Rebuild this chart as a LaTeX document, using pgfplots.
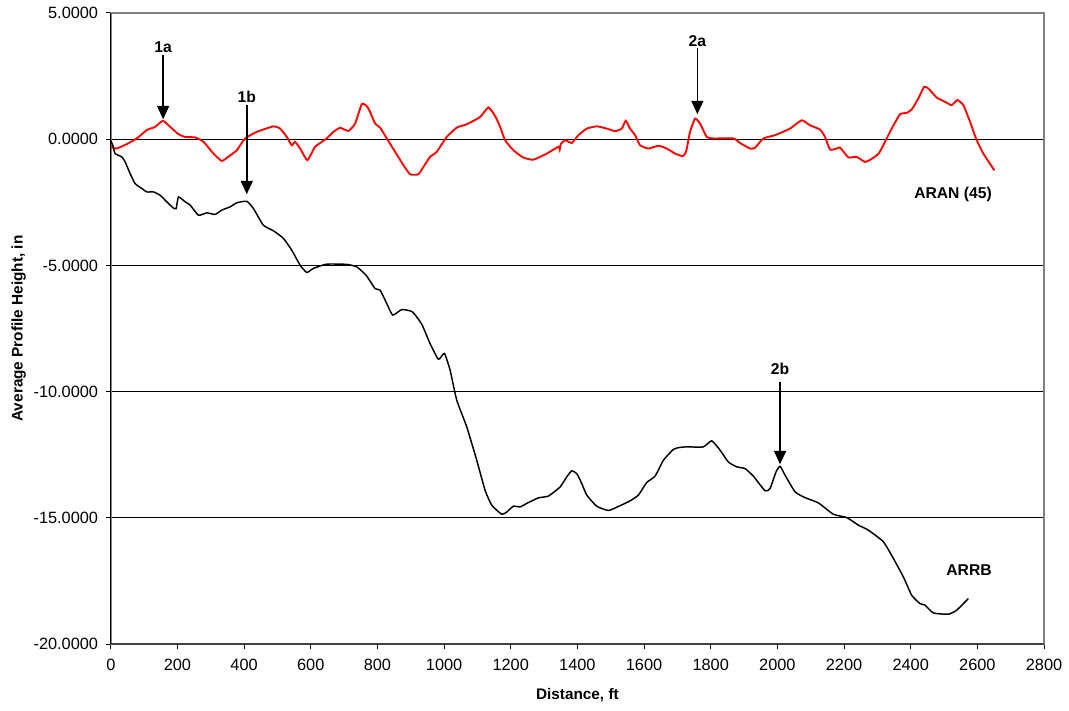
\documentclass[border=0pt]{standalone}
\usepackage{fontspec}
\setmainfont{Liberation Sans}
\usepackage{pgfplots}
\pgfplotsset{compat=1.18}
\usetikzlibrary{arrows.meta}

% ARAN (45) averaged profile
\pgfplotstableread{
x y
0 -0.30
17 -0.37
47 -0.20
78 0.03
108 0.36
133 0.49
156 0.73
178 0.49
203 0.20
223 0.09
253 0.07
278 -0.10
308 -0.57
333 -0.86
352 -0.70
378 -0.44
403 0.03
438 0.29
488 0.51
508 0.42
528 0.09
543 -0.24
553 -0.10
568 -0.37
590 -0.83
613 -0.30
648 0.03
668 0.29
688 0.45
713 0.33
733 0.62
753 1.39
768 1.31
778 1.08
793 0.62
808 0.46
828 0.03
853 -0.50
878 -1.03
898 -1.39
923 -1.39
938 -1.10
958 -0.70
978 -0.50
1008 0.09
1038 0.46
1068 0.59
1108 0.88
1133 1.26
1153 0.92
1168 0.49
1183 -0.04
1208 -0.44
1238 -0.73
1268 -0.81
1308 -0.57
1343 -0.30
1347 -0.40
1350 -0.20
1363 -0.04
1383 -0.15
1403 0.16
1428 0.42
1458 0.51
1488 0.42
1513 0.32
1533 0.42
1545 0.73
1558 0.42
1573 0.16
1588 -0.24
1613 -0.37
1643 -0.26
1668 -0.37
1693 -0.57
1716 -0.67
1726 -0.50
1738 0.29
1753 0.82
1768 0.62
1788 0.09
1808 0.03
1868 0.03
1888 -0.15
1918 -0.37
1933 -0.34
1958 0.03
1993 0.16
2038 0.42
2073 0.75
2098 0.55
2128 0.38
2143 0.09
2158 -0.41
2178 -0.37
2188 -0.33
2213 -0.72
2238 -0.70
2263 -0.90
2283 -0.78
2305 -0.55
2328 0.03
2343 0.42
2368 0.99
2388 1.04
2403 1.18
2423 1.61
2440 2.07
2453 2.01
2478 1.65
2503 1.48
2523 1.35
2540 1.55
2558 1.35
2578 0.69
2598 -0.04
2618 -0.57
2651 -1.23
}\aran

% ARRB averaged profile
\pgfplotstableread{
x y
0 -0.07
6 -0.24
13 -0.57
33 -0.70
43 -0.90
58 -1.36
73 -1.76
93 -1.95
108 -2.09
128 -2.09
148 -2.22
168 -2.48
186 -2.71
196 -2.75
203 -2.29
223 -2.48
238 -2.61
263 -3.01
288 -2.92
313 -2.98
333 -2.81
358 -2.68
378 -2.52
408 -2.46
428 -2.75
458 -3.41
488 -3.63
518 -3.93
543 -4.40
568 -4.99
588 -5.28
608 -5.12
648 -4.95
708 -4.96
738 -5.06
766 -5.39
793 -5.92
808 -5.98
828 -6.51
846 -6.97
873 -6.75
905 -6.84
933 -7.33
958 -8.10
983 -8.72
1001 -8.49
1018 -9.15
1038 -10.34
1068 -11.40
1098 -12.72
1123 -13.91
1143 -14.50
1173 -14.86
1188 -14.77
1208 -14.54
1228 -14.57
1248 -14.43
1283 -14.21
1313 -14.14
1348 -13.78
1368 -13.38
1383 -13.14
1398 -13.25
1413 -13.64
1428 -14.10
1458 -14.54
1493 -14.71
1523 -14.55
1558 -14.33
1583 -14.10
1608 -13.60
1633 -13.35
1658 -12.72
1688 -12.29
1708 -12.21
1728 -12.19
1778 -12.19
1803 -11.95
1828 -12.32
1853 -12.79
1878 -12.98
1903 -13.05
1928 -13.35
1963 -13.93
1978 -13.84
1996 -13.18
2008 -12.96
2023 -13.31
2053 -13.97
2083 -14.20
2123 -14.41
2168 -14.86
2208 -14.99
2243 -15.29
2273 -15.49
2318 -15.95
2348 -16.61
2378 -17.34
2403 -18.07
2428 -18.40
2443 -18.46
2468 -18.77
2513 -18.82
2538 -18.66
2573 -18.20
}\arrb

\begin{document}
\begin{tikzpicture}
\begin{axis}[
  scale only axis,
  width=699.9pt, height=473.25pt,
  xmin=0, xmax=2800, ymin=-20, ymax=5,
  xtick={0,200,...,2800},
  ytick={-20,-15,...,5},
  scaled ticks=false,
  xtick pos=bottom, ytick pos=left,
  tick align=outside,
  major tick length=3.75pt,
  tick style={black, line width=0.75pt},
  ymajorgrids,
  grid style={black, line width=0.75pt},
  axis line style={gray, line width=1.1pt},
  /pgf/number format/assume math mode=true,
  tick label style={font=\fontsize{12.25}{14}\selectfont},
  xticklabel style={yshift=-3.75pt, /pgf/number format/1000 sep={}},
  yticklabel style={xshift=-2.25pt, /pgf/number format/.cd, fixed, fixed zerofill, precision=4},
  label style={font=\bfseries\fontsize{11.5}{13}\selectfont},
  xlabel={Distance, ft},
  ylabel={Average Profile Height, in},
  xlabel style={at={(axis description cs:0.5,-0.0808)}, anchor=center},
  ylabel style={at={(axis description cs:-0.0986,0.5)}, anchor=center},
  after end axis/.code={
    \draw[black, line width=0.8pt] (rel axis cs:0,0) -- (rel axis cs:0,1);
    \draw[black!75, line width=1.5pt] (rel axis cs:0,0) -- (rel axis cs:1,0);
  },
]
\addplot[red, line width=1.4pt, smooth, tension=0.3] table[x=x, y=y] {\aran};
\addplot[black, line width=1.1pt, smooth, tension=0.3] table[x=x, y=y] {\arrb};

\tikzset{lbl/.style={font=\bfseries\fontsize{11.75}{13}\selectfont},
         pin/.style={black, line width=1.1pt, -{Triangle[length=10pt,width=9pt]}}}
\node[lbl] at (axis cs:157,3.65) {1a};
\draw[pin] (axis cs:157,3.33) -- (axis cs:157,0.79);
\node[lbl] at (axis cs:408,1.66) {1b};
\draw[pin] (axis cs:408,1.35) -- (axis cs:408,-2.18);
\node[lbl] at (axis cs:1760,3.88) {2a};
\draw[pin] (axis cs:1760,3.60) -- (axis cs:1760,0.99);
\node[lbl] at (axis cs:2008,-9.11) {2b};
\draw[pin] (axis cs:2008,-9.63) -- (axis cs:2008,-12.88);
\node[lbl] at (axis cs:2527,-2.18) {ARAN (45)};
\node[lbl] at (axis cs:2575,-17.08) {ARRB};
\end{axis}
\pgfresetboundingbox
\path (-83.1pt,-49.5pt) rectangle (718.65pt,483pt);
\end{tikzpicture}
\end{document}
